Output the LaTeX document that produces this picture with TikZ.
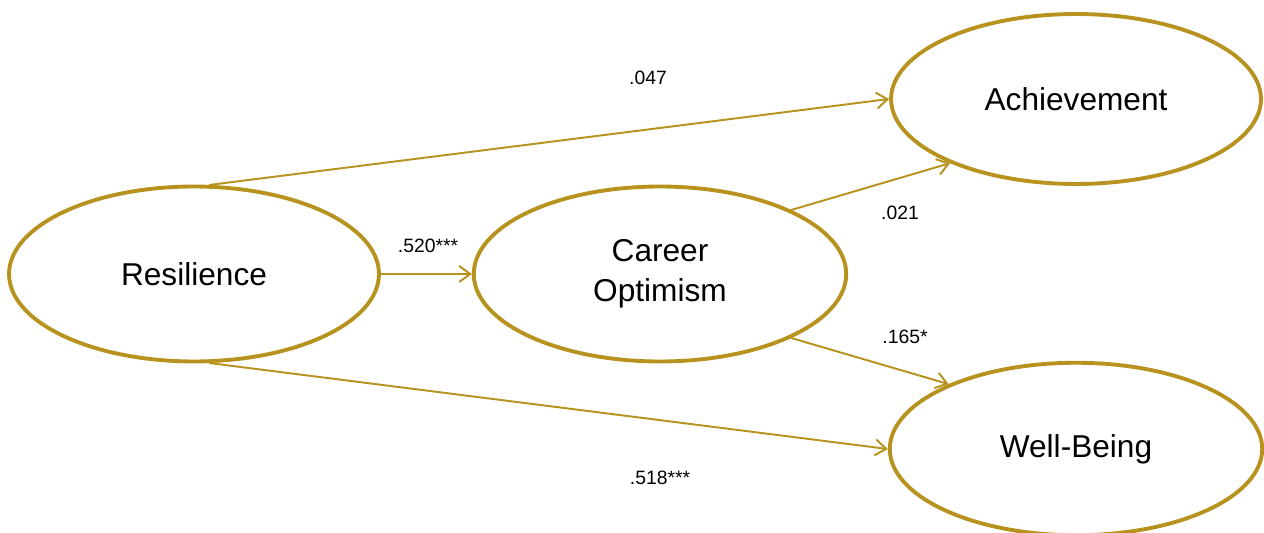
\documentclass[tikz,border=0pt]{standalone}
\usepackage{fontspec}
\setmainfont{Liberation Sans}
\usetikzlibrary{arrows.meta,shapes.geometric}
\definecolor{ochre}{RGB}{184,146,30}
\tikzset{pathmodel/.style={
  x=0.02cm,y=-0.02cm,
  >={Straight Barb[length=2.2mm,width=3.2mm]},line join=round,line cap=round
},
latent/.style={ellipse,draw=ochre,line width=2.2pt,inner sep=0pt,
  align=center,font=\fontsize{18}{22.7}\selectfont},
path/.style={->,draw=ochre,line width=1.1pt},
coef/.style={font=\fontsize{11}{13}\selectfont}
}

\begin{document}
\begin{tikzpicture}[pathmodel]
  \useasboundingbox[fill=white] (0,0) rectangle (1264,533);
  \node[latent,minimum width=7.40cm,minimum height=3.50cm] (res) at (194,274) {Resilience};
  \node[latent,minimum width=7.45cm,minimum height=3.50cm] (opt) at (660,274) {Career\\Optimism};
  \node[latent,minimum width=7.40cm,minimum height=3.40cm] (ach) at (1076,99) {Achievement};
  \node[latent,minimum width=7.45cm,minimum height=3.45cm] (wb) at (1076,449) {Well-Being};
  \draw[path] (res.east) -- (opt.west);
  \draw[path] (res.80) -- (ach.west);
  \draw[path] (res.280) -- (wb.west);
  \draw[path] (opt.26) -- (ach.207);
  \draw[path] (opt.334) -- (wb.153);
  \node[coef] (cRO) at (428,246) {.520***};
  \node[coef] (cRA) at (648,78) {.047};
  \node[coef] (cRW) at (660,478) {.518***};
  \node[coef] (cOA) at (900,213) {.021};
  \node[coef] (cOW) at (905,337) {.165*};
\end{tikzpicture}
\end{document}
